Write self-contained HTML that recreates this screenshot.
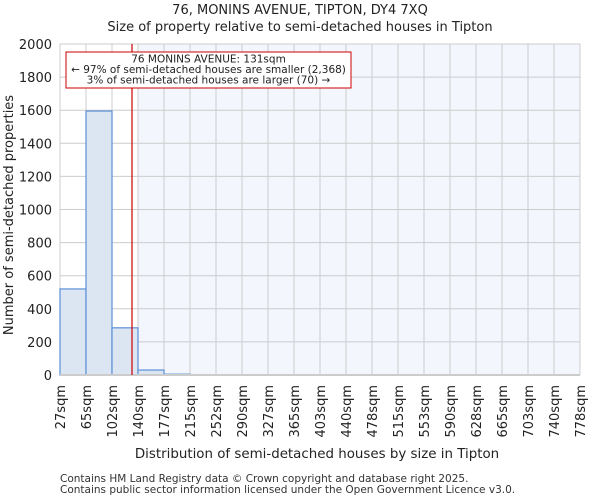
<!DOCTYPE html>
<html><head><meta charset="utf-8"><style>
body{margin:0;background:#fff;font-family:"DejaVu Sans","Liberation Sans",sans-serif;}
</style></head><body>
<svg width="600" height="500" xmlns="http://www.w3.org/2000/svg" font-family="DejaVu Sans, Liberation Sans, sans-serif">
<text x="300" y="14" text-anchor="middle" font-size="13" fill="#222">76, MONINS AVENUE, TIPTON, DY4 7XQ</text>
<text x="300" y="31" text-anchor="middle" font-size="13" fill="#222">Size of property relative to semi-detached houses in Tipton</text>
<g id="plot"></g>
<text x="317" y="458" text-anchor="middle" font-size="13.4" fill="#222">Distribution of semi-detached houses by size in Tipton</text>
<text transform="translate(13,215) rotate(-90)" text-anchor="middle" font-size="13" fill="#222">Number of semi-detached properties</text>
<text x="60" y="482" font-size="10.5" fill="#333">Contains HM Land Registry data © Crown copyright and database right 2025.</text>
<text x="60" y="493" font-size="10.5" fill="#333">Contains public sector information licensed under the Open Government Licence v3.0.</text>
</svg>
<script>
const binLabels=["27sqm","65sqm","102sqm","140sqm","177sqm","215sqm","252sqm","290sqm","327sqm","365sqm","403sqm","440sqm","478sqm","515sqm","553sqm","590sqm","628sqm","665sqm","703sqm","740sqm","778sqm"];
const counts=[520,1595,285,30,5,0,0,0,0,0,0,0,0,0,0,0,0,0,0,0];
const yTicks=[0,200,400,600,800,1000,1200,1400,1600,1800,2000];
const propertySize=131;
const binStart=27, binStep=37.55;
const NS="http://www.w3.org/2000/svg";
const L=60,R=580,T=44,B=375;
const n=counts.length;
const xPix=i=>L+(R-L)*i/n;
const xVal=v=>L+(R-L)*(v-binStart)/(binStep*n);
const yPix=v=>B-(B-T)*v/2000;
const g=document.getElementById('plot');
function mk(t,a){const e=document.createElementNS(NS,t);for(const k in a)e.setAttribute(k,a[k]);g.appendChild(e);return e;}
const pb=Math.ceil((propertySize-binStart)/binStep);
let bg=mk('rect',{x:xPix(pb),y:T,width:R-xPix(pb),height:B-T,fill:'#f3f6fd'});


yTicks.forEach(v=>{
 let l=mk('line',{x1:L,x2:R,y1:yPix(v),y2:yPix(v),stroke:'#cccccc','stroke-width':1});
 
 
 let t=mk('text',{x:L-8,y:yPix(v)+5,'text-anchor':'end','font-size':13,fill:'#222'});
 t.textContent=v;
 
 
});
binLabels.forEach((s,i)=>{
 let l=mk('line',{x1:xPix(i),x2:xPix(i),y1:T,y2:B,stroke:'#cccccc','stroke-width':1});
 
 
 let t=mk('text',{transform:`translate(${xPix(i)+5},385) rotate(-90)`,'text-anchor':'end','font-size':13,fill:'#222'});
 t.textContent=s;
 
 
});
counts.forEach((c,i)=>{
 if(c<=0)return;
 let r=mk('rect',{x:xPix(i),y:yPix(c),width:xPix(i+1)-xPix(i),height:B-yPix(c),fill:'#dce6f3',stroke:'#5b8fd6','stroke-width':1.2});
 
 
});
let ax=mk('line',{x1:L,x2:R,y1:B,y2:B,stroke:'#cccccc','stroke-width':2});


const px=xVal(propertySize);
let pl=mk('line',{x1:px,x2:px,y1:T,y2:B,stroke:'#cc0000','stroke-width':1.2});


let box=mk('rect',{x:66,y:52,width:285,height:36,fill:'#fff',stroke:'#cc0000','stroke-width':1});


["76 MONINS AVENUE: 131sqm","← 97% of semi-detached houses are smaller (2,368)","3% of semi-detached houses are larger (70) →"].forEach((s,i)=>{
 let t=mk('text',{x:208.5,y:62.5+i*10.5,'text-anchor':'middle','font-size':10.5,fill:'#222'});
 t.textContent=s;
 
 
});
</script>
</body></html>
